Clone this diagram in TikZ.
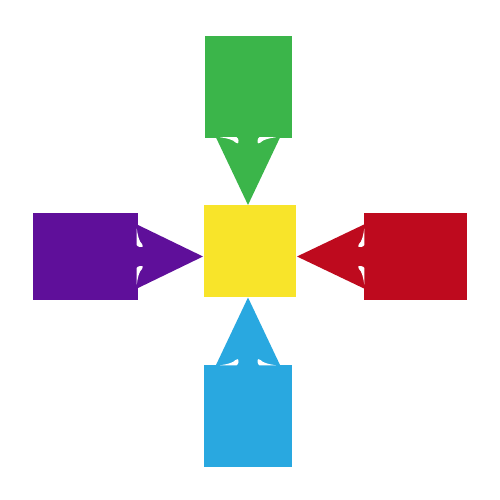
\documentclass[tikz,border=0pt]{standalone}
\definecolor{cgreen}{HTML}{3BB54A}
\definecolor{cred}{HTML}{BE0A1E}
\definecolor{cpurple}{HTML}{5F0F9A}
\definecolor{cblue}{HTML}{29A8E0}
\definecolor{cyellow}{HTML}{F8E42A}
% #1 base centre, #2 rotation, #3 colour, #4 rect half-width, #5 rect length, #6 head length
\newcommand\BigArrow[6]{%
  \begin{scope}[shift={(#1)},rotate=#2]
    \fill[#3] (-#4,-#5) rectangle (#4,0.5);
    \fill[#3] (-32,0) -- (32,0) -- (0,#6) -- cycle;
    \fill[white] (-28,-0.3) .. controls (-21,0.8) and (-15,2) .. (-12.5,5) .. controls (-11,6.8) and (-9,6) .. (-9.5,3) .. controls (-9.8,1.5) and (-10.5,-0.3) .. (-11.5,-0.3) -- cycle;
    \fill[white] (28,-0.3) .. controls (21,0.8) and (15,2) .. (12.5,5) .. controls (11,6.8) and (9,6) .. (9.5,3) .. controls (9.8,1.5) and (10.5,-0.3) .. (11.5,-0.3) -- cycle;
  \end{scope}}
\begin{document}
\begin{tikzpicture}[x=1pt,y=-1pt]
  \useasboundingbox (0,0) rectangle (500,500);
  \fill[white] (0,0) rectangle (500,500);
  \node[fill=cyellow,minimum width=92pt,minimum height=92pt,inner sep=0pt,outer sep=0pt] (centre) at (250,251) {};
  \BigArrow{248,137.5}{0}{cgreen}{43.5}{101.5}{67.5}
  \BigArrow{248,365}{180}{cblue}{44}{102}{67.5}
  \BigArrow{364,256.5}{-90}{cred}{43.5}{103}{67}
  \BigArrow{137,256.5}{90}{cpurple}{43.5}{104}{66}
\end{tikzpicture}
\end{document}
